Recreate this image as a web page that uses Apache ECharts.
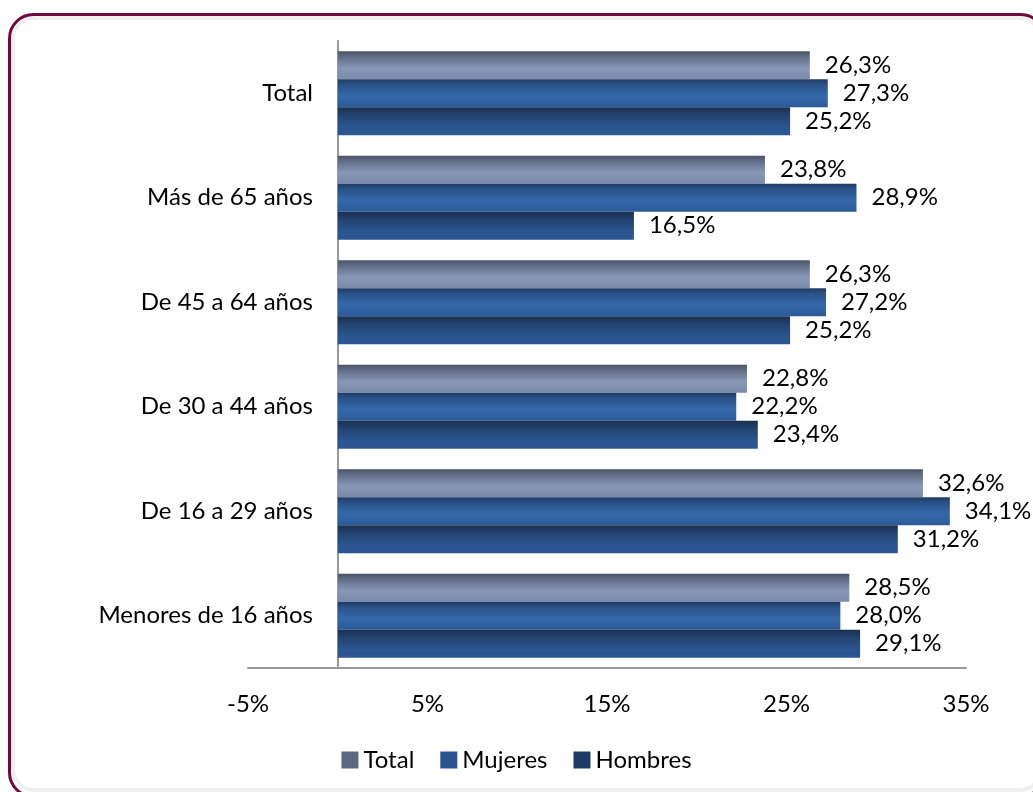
<!DOCTYPE html>
<html>
<head>
<meta charset="utf-8">
<script src="https://cdn.jsdelivr.net/npm/echarts@6/dist/echarts.min.js"></script>
<style>
html,body{margin:0;padding:0;background:#fff;}
#chart{width:1033px;height:792px;}
</style>
</head>
<body>
<div id="chart"></div>
<script>
const categories = ['Total', 'Más de 65 años', 'De 45 a 64 años', 'De 30 a 44 años', 'De 16 a 29 años', 'Menores de 16 años'];
const seriesNames = ['Total', 'Mujeres', 'Hombres'];
const totalValues = [26.3, 23.8, 26.3, 22.8, 32.6, 28.5];
const mujeresValues = [27.3, 28.9, 27.2, 22.2, 34.1, 28.0];
const hombresValues = [25.2, 16.5, 25.2, 23.4, 31.2, 29.1];
const xTicks = [-5, 5, 15, 25, 35];

const FONT = 'Lato';
const FS = 24;
function grad(stops) {
  return new echarts.graphic.LinearGradient(0, 0, 0, 1, stops.map((c) => ({offset: c[0], color: c[1]})));
}
const colors = [
  grad([[0, '#4a5366'], [0.15, '#5d6880'], [0.6, '#8798b8'], [1, '#7a8baa']]),
  grad([[0, '#1e3b63'], [0.2, '#2a5288'], [0.6, '#3468ab'], [1, '#2c5a97']]),
  grad([[0, '#1a3050'], [0.25, '#22416c'], [0.7, '#2a5590'], [1, '#2a5691']])
];
const legendColors = ['#5a6780', '#2a5190', '#1d3a64'];
const valueSets = [totalValues, mujeresValues, hombresValues];

const chart = echarts.init(document.getElementById('chart'), null, {renderer: 'canvas'});
chart.setOption({
  animation: false,
  backgroundColor: '#ffffff',
  graphic: [{
    type: 'rect',
    z: -10,
    shape: {x: 9.5, y: 14.5, width: 1035, height: 782, r: 24},
    style: {fill: '#ffffff', stroke: '#6e0b3c', lineWidth: 3}
  }, {
    type: 'rect',
    z: -9,
    shape: {x: 13, y: 18, width: 1028, height: 772, r: 21},
    style: {fill: null, stroke: 'rgba(0,0,0,0.06)', lineWidth: 4,
      shadowBlur: 8, shadowColor: 'rgba(0,0,0,0.18)'}
  }],
  grid: {left: 248, right: 67, top: 41, bottom: 124, containLabel: false},
  legend: {
    data: seriesNames.map((n, i) => ({name: n, icon: 'rect', itemStyle: {color: legendColors[i]}})),
    bottom: 15,
    left: 'center',
    itemWidth: 17,
    itemHeight: 17,
    itemGap: 26,
    textStyle: {fontFamily: FONT, fontSize: FS, color: '#000'}
  },
  xAxis: {
    type: 'value',
    min: -5, max: 35, interval: 10,
    axisLine: {show: true, lineStyle: {color: '#999', width: 2}},
    axisTick: {show: false},
    splitLine: {show: false},
    axisLabel: {
      margin: 24,
      fontFamily: FONT, fontSize: FS, color: '#000',
      formatter: v => xTicks.includes(v) ? v + '%' : ''
    }
  },
  yAxis: {
    type: 'category',
    inverse: true,
    data: categories,
    axisLine: {show: true, onZero: true, lineStyle: {color: '#999', width: 2}},
    axisTick: {show: false},
    axisLabel: {margin: -65, fontFamily: FONT, fontSize: FS, color: '#000'}
  },
  series: seriesNames.map((name, i) => ({
    name: name,
    type: 'bar',
    data: valueSets[i],
    barWidth: 28,
    barGap: '0%',
    itemStyle: {color: colors[i]},
    label: {
      show: true,
      position: 'right',
      distance: 15,
      fontFamily: FONT, fontSize: FS, color: '#000',
      formatter: p => p.value.toFixed(1).replace('.', ',') + '%'
    }
  }))
});
</script>
</body>
</html>
